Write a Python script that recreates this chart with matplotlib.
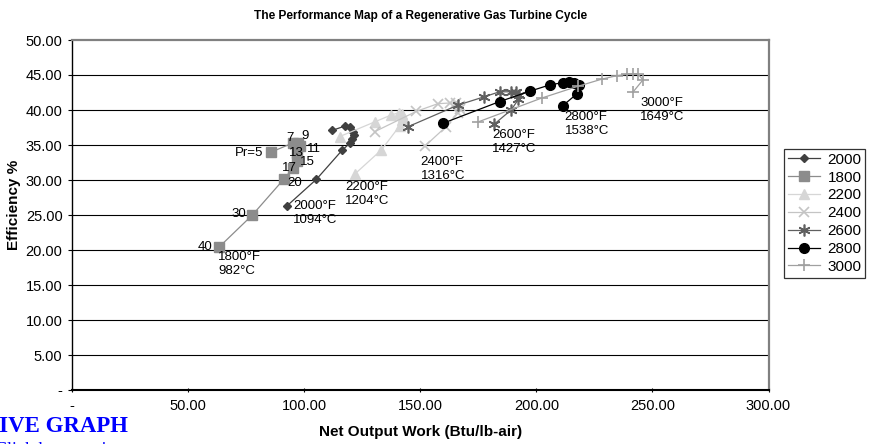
import matplotlib
matplotlib.use("Agg")
import matplotlib.pyplot as plt
from matplotlib.ticker import FixedLocator, FuncFormatter

plt.rcParams['font.family'] = ['Liberation Sans', 'DejaVu Sans']

# Pressure ratios for each curve (same for all series)
pr = [5, 7, 9, 11, 13, 15, 17, 20, 30, 40]

# Net output work (Btu/lb-air) and efficiency (%) for each turbine inlet temperature
w_2000 = [112.1, 117.4, 119.5, 120.9, 121.2, 120.7, 119.8, 116.4, 105.2, 92.5]
e_2000 = [37.1, 37.7, 37.5, 36.9, 36.4, 35.8, 35.3, 34.3, 30.1, 26.3]

w_1800 = [85.8, 95.1, 97.3, 98.0, 96.8, 96.8, 95.1, 91.1, 77.6, 63.2]
e_1800 = [34.0, 35.3, 35.3, 34.8, 33.8, 32.7, 31.7, 30.1, 25.0, 20.4]

w_2200 = [115.2, 130.3, 137.5, 140.7, 142.2, 142.7, 142.2, 141.0, 133.2, 121.9]
e_2200 = [36.2, 38.3, 39.3, 39.6, 39.4, 39.0, 38.5, 37.7, 34.3, 30.9]

w_2400 = [130.3, 148.2, 157.5, 162.6, 165.2, 167.0, 167.2, 166.2, 161.0, 151.8]
e_2400 = [36.9, 39.8, 40.9, 41.0, 41.0, 40.6, 40.2, 39.6, 37.6, 34.8]

w_2600 = [144.6, 166.2, 177.6, 184.1, 189.1, 191.3, 192.7, 192.2, 189.1, 181.9]
e_2600 = [37.6, 40.7, 41.9, 42.6, 42.6, 42.5, 42.1, 41.5, 40.0, 38.0]

w_2800 = [159.7, 184.1, 197.3, 205.9, 211.3, 214.2, 216.4, 218.2, 217.4, 211.3]
e_2800 = [38.1, 41.2, 42.7, 43.6, 43.9, 44.0, 43.9, 43.6, 42.3, 40.6]

w_3000 = [174.9, 202.2, 218.0, 228.1, 234.6, 239.1, 241.4, 243.9, 245.9, 241.7]
e_3000 = [38.3, 41.7, 43.4, 44.4, 44.9, 45.1, 45.1, 45.1, 44.3, 42.6]

series_names = ['2000', '1800', '2200', '2400', '2600', '2800', '3000']
temp_labels = {
    '1800': '1800°F\n982°C', '2000': '2000°F\n1094°C', '2200': '2200°F\n1204°C',
    '2400': '2400°F\n1316°C', '2600': '2600°F\n1427°C', '2800': '2800°F\n1538°C',
    '3000': '3000°F\n1649°C',
}

x_ticks = [0, 50, 100, 150, 200, 250, 300]
y_ticks = [0, 5, 10, 15, 20, 25, 30, 35, 40, 45, 50]

data = {
    '2000': (w_2000, e_2000), '1800': (w_1800, e_1800), '2200': (w_2200, e_2200),
    '2400': (w_2400, e_2400), '2600': (w_2600, e_2600), '2800': (w_2800, e_2800),
    '3000': (w_3000, e_3000),
}

styles = {
    '2000': dict(color='#404040', marker='D', ms=4.2),
    '1800': dict(color='#8c8c8c', marker='s', ms=6.5),
    '2200': dict(color='#d6d6d6', marker='^', ms=7),
    '2400': dict(color='#c4c4c4', marker='x', ms=7, mew=1.2),
    '2600': dict(color='#606060', marker=(6, 2, 0), ms=8.5, mew=1.2),
    '2800': dict(color='#000000', marker='o', ms=7),
    '3000': dict(color='#a0a0a0', marker='+', ms=8, mew=1.2),
}

W, H = 871, 444
fig = plt.figure(figsize=(W / 100, H / 100), dpi=100)
L, R, T, B = 72.3, 768.5, 40, 390
ax = fig.add_axes([L / W, 1 - B / H, (R - L) / W, (B - T) / H])

handles = []
for name in series_names:
    xs, ys = data[name]
    st = styles[name]
    h, = ax.plot(xs, ys, color=st['color'], lw=0.9, marker=st['marker'],
                 ms=st['ms'], mew=st.get('mew', 1), mfc=st['color'], mec=st['color'],
                 label=name, zorder=3)
    handles.append(h)

ax.set_xlim(x_ticks[0], x_ticks[-1])
ax.set_ylim(y_ticks[0], y_ticks[-1])
ax.xaxis.set_major_locator(FixedLocator(x_ticks))
ax.yaxis.set_major_locator(FixedLocator(y_ticks))
fmt = FuncFormatter(lambda v, p: '-' if v == 0 else f'{v:.2f}')
ax.xaxis.set_major_formatter(fmt)
ax.yaxis.set_major_formatter(fmt)
ax.tick_params(axis='both', labelsize=10.5, colors='black', length=3, width=0.8)
ax.tick_params(axis='x', direction='inout', pad=5)
ax.tick_params(axis='y', direction='out', pad=4)

for y in y_ticks[1:-1]:
    ax.axhline(y, color='black', lw=0.8, zorder=1)

for s in ['top', 'right']:
    ax.spines[s].set_color('#808080')
    ax.spines[s].set_linewidth(1.6)
ax.spines['left'].set_color('black')
ax.spines['left'].set_linewidth(1.0)
ax.spines['bottom'].set_color('black')
ax.spines['bottom'].set_linewidth(1.5)

# Pressure ratio labels on the 1800 curve (offsets in pixels)
pr_offsets = {5: (-8, -1), 7: (-3, 5), 9: (7, 7), 11: (14, -3), 13: (-1, 0),
              15: (10, -1), 17: (-4, 0), 20: (11, -4), 30: (-14, 1), 40: (-14, 0)}
for i, p in enumerate(pr):
    dx, dy = pr_offsets[p]
    txt = f'Pr={p}' if p == 5 else str(p)
    ax.annotate(txt, (w_1800[i], e_1800[i]), xytext=(dx, dy), textcoords='offset pixels',
                ha='right' if p == 5 else 'center', va='center', fontsize=9.5, zorder=5)

# Temperature labels near the Pr=40 end of each curve
t_offsets = {'1800': (-1, -4), '2000': (6, 6), '2200': (-10, -7), '2400': (-4, -10),
             '2600': (-2, -5.5), '2800': (2, -5), '3000': (7, -5)}
for name, (dx, dy) in t_offsets.items():
    xs, ys = data[name]
    ax.annotate(temp_labels[name], (xs[-1], ys[-1]), xytext=(dx, dy),
                textcoords='offset pixels', ha='left', va='top', fontsize=9.5,
                linespacing=1.2, zorder=5)

fig.text(421 / W, 1 - 16 / H, 'The Performance Map of a Regenerative Gas Turbine Cycle',
         ha='center', va='center', fontsize=8.6, fontweight='bold')
fig.text(421 / W, 1 - 432 / H, 'Net Output Work (Btu/lb-air)', ha='center', va='center',
         fontsize=11, fontweight='bold')
fig.text(14 / W, 1 - 205 / H, 'Efficiency %', ha='center', va='center', rotation=90,
         fontsize=11, fontweight='bold')

leg = fig.legend(handles=handles, loc='upper left', bbox_to_anchor=(784 / W, 1 - 149 / H),
                 frameon=True, fancybox=False, fontsize=11, handlelength=2.1,
                 handletextpad=0.5, labelspacing=0.25, borderpad=0.25, borderaxespad=0)
leg.get_frame().set_edgecolor('black')
leg.get_frame().set_linewidth(0.9)

fig.text(-16 / W, 1 - 426 / H, 'LIVE GRAPH', ha='left', va='center', color='#0000ff',
         fontsize=16.5, fontweight='bold', family=['Liberation Serif', 'DejaVu Serif'])
fig.text(-5 / W, 1 - 450 / H, 'Click here to view', ha='left', va='center', color='#0000ff',
         fontsize=13, family=['Liberation Serif', 'DejaVu Serif'])

fig.savefig('out.png', dpi=100)
